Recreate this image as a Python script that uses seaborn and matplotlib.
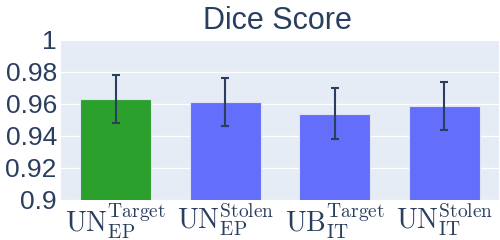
import matplotlib
matplotlib.use("Agg")
import pandas as pd
import matplotlib.pyplot as plt
import seaborn as sns

models = [r"$\mathrm{UN}_{\mathrm{EP}}^{\mathrm{Target}}$",
          r"$\mathrm{UN}_{\mathrm{EP}}^{\mathrm{Stolen}}$",
          r"$\mathrm{UB}_{\mathrm{IT}}^{\mathrm{Target}}$",
          r"$\mathrm{UN}_{\mathrm{IT}}^{\mathrm{Stolen}}$"]
dice = [0.963, 0.961, 0.954, 0.959]
dice_err = [0.015, 0.015, 0.016, 0.015]
bar_colors = ["#2CA02C", "#636EFA", "#636EFA", "#636EFA"]
y_ticks = [0.9, 0.92, 0.94, 0.96, 0.98, 1.0]
y_tick_labels = ["0.9", "0.92", "0.94", "0.96", "0.98", "1"]

TEXT = "#2a3f5f"

sns.set_style("darkgrid", {"axes.facecolor": "#E5ECF6", "grid.color": "white"})
plt.rcParams["font.family"] = ["Liberation Sans", "DejaVu Sans"]
plt.rcParams["mathtext.fontset"] = "cm"

df = pd.DataFrame({"model": models, "dice": dice})

fig = plt.figure(figsize=(5, 2.4), dpi=100)
ax = fig.add_axes([0.122, 0.1667, 0.876, 0.6667])

sns.barplot(data=df, x="model", y="dice", hue="model", palette=bar_colors,
            saturation=1, legend=False, width=0.645, ax=ax,
            edgecolor="#dfe3f8", linewidth=0.8)
ax.errorbar(x=list(range(len(models))), y=dice, yerr=dice_err, fmt="none",
            ecolor=TEXT, elinewidth=1.5, capsize=3, capthick=1.5, zorder=5)

ax.set_ylim(0.9, 1.0)
ax.set_xlim(-0.5, 3.5)
ax.set_yticks(y_ticks)
ax.set_yticklabels(y_tick_labels, fontsize=19, color=TEXT)
ax.tick_params(axis="x", labelsize=20, labelcolor=TEXT, pad=1, length=0)
ax.tick_params(axis="y", pad=3, length=0)
ax.grid(axis="x", visible=False)
ax.grid(axis="y", linewidth=1.0)
ax.set_xlabel("")
ax.set_ylabel("")
for s in ax.spines.values():
    s.set_visible(False)

fig.suptitle("Dice Score", x=0.555, y=0.975, fontsize=22, color=TEXT)

fig.savefig("out.png", dpi=100)
